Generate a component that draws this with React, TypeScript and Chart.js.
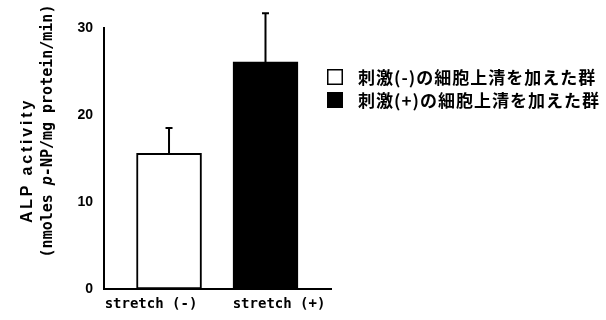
import React, { useEffect, useRef } from 'react';
import { Chart, registerables } from 'chart.js';

Chart.register(...registerables);

const categories = ['stretch (-)', 'stretch (+)'];
const meanValues = [15.6, 26.1];
const errorValues = [2.9, 5.6];
const barColors = ['#ffffff', '#000000'];
const legendLabels = ['刺激(-)の細胞上清を加えた群', '刺激(+)の細胞上清を加えた群'];
const yMin = 0;
const yMax = 30;
const yStep = 10;
const yTitleLine1 = 'ALP activity';
const yTitleLine2Parts = ['(nmoles ', 'p', '-NP/mg protein/min)'];

const errorBarPlugin = {
  id: 'errorBars',
  afterDatasetsDraw(chart: any) {
    const ctx = chart.ctx;
    const yScale = chart.scales.y;
    const meta = chart.getDatasetMeta(0);
    ctx.save();
    ctx.strokeStyle = '#000';
    ctx.lineWidth = 2;
    meta.data.forEach((el: any, i: number) => {
      const top = yScale.getPixelForValue(meanValues[i] + errorValues[i]);
      ctx.beginPath();
      ctx.moveTo(el.x, el.y);
      ctx.lineTo(el.x, top);
      ctx.moveTo(el.x - 3.5, top);
      ctx.lineTo(el.x + 3.5, top);
      ctx.stroke();
    });
    ctx.restore();
  },
};

const yTitlePlugin = {
  id: 'yTitle',
  afterDraw(chart: any) {
    const ctx = chart.ctx;
    const area = chart.chartArea;
    ctx.save();
    ctx.fillStyle = '#000';
    ctx.textBaseline = 'middle';
    // line 1
    ctx.save();
    ctx.translate(28, (area.top + area.bottom) / 2 + 2);
    ctx.rotate(-Math.PI / 2);
    ctx.font = 'bold 16px "Liberation Sans", Arial, sans-serif';
    (ctx as any).letterSpacing = '2.8px';
    ctx.textAlign = 'center';
    ctx.fillText(yTitleLine1, 0, 0);
    ctx.restore();
    // line 2
    ctx.save();
    ctx.translate(48, 131);
    ctx.rotate(-Math.PI / 2);
    ctx.textAlign = 'left';
    const fonts = [
      'bold 15px "DejaVu Sans Mono", monospace',
      'italic bold 15px "DejaVu Sans Mono", monospace',
      'bold 15px "DejaVu Sans Mono", monospace',
    ];
    let total = 0;
    const widths = yTitleLine2Parts.map((t, i) => {
      ctx.font = fonts[i];
      const w = ctx.measureText(t).width;
      total += w;
      return w;
    });
    let x = -total / 2;
    yTitleLine2Parts.forEach((t, i) => {
      ctx.font = fonts[i];
      ctx.fillText(t, x, 0);
      x += widths[i];
    });
    ctx.restore();
    ctx.restore();
  },
};

const legendPlugin = {
  id: 'customLegend',
  afterDraw(chart: any) {
    const ctx = chart.ctx;
    const area = chart.chartArea;
    ctx.save();
    legendLabels.forEach((label, i) => {
      const bx = area.right - 4;
      const by = area.top + 41 + i * 23;
      if (barColors[i] === '#000000') {
        ctx.fillStyle = '#000';
        ctx.fillRect(bx, by, 16, 16);
      } else {
        ctx.fillStyle = barColors[i];
        ctx.fillRect(bx, by, 16, 16);
        ctx.strokeStyle = '#000';
        ctx.lineWidth = 1.5;
        ctx.strokeRect(bx + 0.75, by + 0.75, 14.5, 14.5);
      }
      ctx.fillStyle = '#000';
      ctx.font = 'bold 17px "Noto Sans CJK JP", sans-serif';
      (ctx as any).letterSpacing = '1px';
      ctx.textAlign = 'left';
      ctx.textBaseline = 'middle';
      ctx.fillText(label, bx + 31, by + 9);
    });
    ctx.restore();
  },
};

export default function App() {
  const canvasRef = useRef<HTMLCanvasElement | null>(null);

  useEffect(() => {
    document.body.style.margin = '0';
    const canvas = canvasRef.current;
    if (!canvas) return;
    const chart = new Chart(canvas, {
      type: 'bar',
      data: {
        datasets: [
          {
            label: 'ALP activity',
            data: meanValues.map((v, i) => ({ x: i + 1, y: v })) as any,
            backgroundColor: barColors,
            borderColor: '#000',
            borderWidth: 2,
            borderSkipped: false,
            barThickness: 65,
            xAxisID: 'xBar',
            yAxisID: 'y',
          },
        ],
      },
      options: {
        animation: false,
        responsive: true,
        maintainAspectRatio: false,
        layout: { padding: { top: 28, right: 275, bottom: 0, left: 0 } },
        plugins: {
          legend: { display: false },
          tooltip: { enabled: false },
        },
        scales: {
          xBar: {
            type: 'linear',
            position: 'bottom',
            min: 0.326,
            max: 2.679,
            offset: false,
            display: false,
          },
          xLab: {
            type: 'linear',
            position: 'bottom',
            min: 0.633,
            max: 2.406,
            offset: false,
            grid: { display: false, drawTicks: false, offset: false },
            border: { display: true, color: '#000', width: 2 },
            afterBuildTicks: (scale: any) => {
              scale.ticks = categories.map((_, i) => ({ value: i + 1 }));
            },
            afterFit: (scale: any) => {
              scale.height = 31;
            },
            ticks: {
              color: '#000',
              padding: 7,
              autoSkip: false,
              maxRotation: 0,
              font: { family: '"DejaVu Sans Mono", monospace', size: 14, weight: 'bold' },
              callback: (v: any) => categories[Math.round(v) - 1] ?? '',
            },
          },
          y: {
            type: 'linear',
            position: 'left',
            min: yMin,
            max: yMax,
            grid: { display: false, drawTicks: false },
            border: { display: true, color: '#000', width: 2 },
            afterFit: (scale: any) => {
              scale.width = 104;
            },
            ticks: {
              stepSize: yStep,
              color: '#000',
              padding: 11,
              font: { family: '"Liberation Sans", Arial, sans-serif', size: 14, weight: 'bold' },
            },
          },
        } as any,
      },
      plugins: [errorBarPlugin, yTitlePlugin, legendPlugin],
    });
    return () => chart.destroy();
  }, []);

  return (
    <div style={{ width: 606, height: 320, position: 'relative', background: '#fff' }}>
      <canvas ref={canvasRef} />
    </div>
  );
}
